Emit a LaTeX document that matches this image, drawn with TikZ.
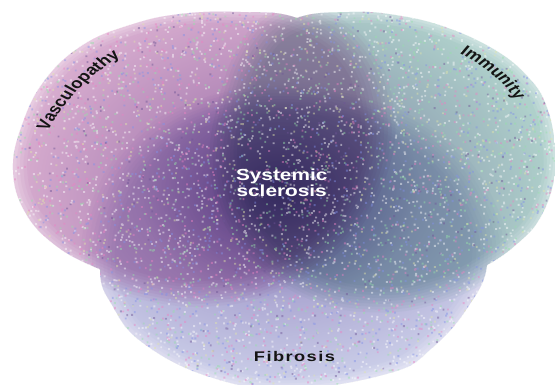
\documentclass[tikz,border=0pt]{standalone}
\usepackage{fontspec}
\setmainfont{Liberation Sans}
\usetikzlibrary{decorations.text,fadings}
\definecolor{cleft}{RGB}{238,210,232}
\definecolor{cright}{RGB}{211,232,229}
\definecolor{cbottom}{RGB}{231,233,245}
\definecolor{cwide}{RGB}{170,150,200}
\definecolor{ccore}{RGB}{175,165,210}
\definecolor{labelink}{RGB}{20,20,20}
\definecolor{speckw}{RGB}{255,255,255}
\definecolor{speckp}{RGB}{235,130,195}
\definecolor{speckg}{RGB}{150,225,170}
\definecolor{speckb}{RGB}{130,145,232}
\definecolor{specky}{RGB}{225,230,170}
\definecolor{speckd}{RGB}{110,85,150}
\newcommand\vlabelfont{\color{labelink}\bfseries\fontsize{14.5}{17}\selectfont}
\tikzfading[name=blobfade, inner color=transparent!0, outer color=transparent!100]
\tikzset{
  leftblob/.style={insert path={plot[smooth cycle,tension=0.7] coordinates {
    (297,367) (240,373) (180,371) (130,360) (83,340) (45,305) (22,260) (13,215)
    (25,173) (55,140) (97,117) (150,98) (210,93) (270,107) (330,147) (368,210)
    (375,275) (350,335)}}},
  rightblob/.style={insert path={plot[smooth cycle,tension=0.7] coordinates {
    (260,340) (235,280) (228,210) (255,145) (315,100) (380,87) (440,97) (487,120)
    (518,142) (540,167) (554,205) (555,240) (546,280) (528,308) (495,335) (445,358)
    (395,370) (350,373) (297,367)}}},
  bottomblob/.style={insert path={plot[smooth cycle,tension=0.7] coordinates {
    (100,115) (112,80) (143,42) (210,8) (290,-4) (390,12) (432,37) (468,78)
    (487,120) (480,170) (440,230) (370,270) (290,283) (210,273) (145,235) (108,175)}}},
  layer/.style={opacity=0.2, blend mode=multiply},
  darkglow/.style={fill=#1, blend mode=multiply, path fading=blobfade},
  speckles/.style={fill=#1, opacity=0.45},
  centertext/.style={text=white, font=\bfseries\fontsize{16}{18}\selectfont, inner sep=0pt, anchor=base},
  curvedlabel/.style={decorate, decoration={text along path, text align=center, text={#1}}}
}
\begin{document}
\begin{tikzpicture}[x=1pt,y=1pt]
\useasboundingbox (0,0) rectangle (555,385);
\fill[white] (0,0) rectangle (555,385);
\begin{scope}
  \clip[leftblob, rightblob, bottomblob];
  \foreach \s in {1.10,1.08,1.06,1.04,1.02,1.00,0.98,0.96,0.94,0.92} {
    \fill[scale around={\s:(190,235)}, cleft, layer, leftblob];
    \fill[scale around={\s:(400,232)}, cright, layer, rightblob];
    \fill[scale around={\s:(290,140)}, cbottom, layer, bottomblob];
  }
  \path[darkglow=cwide] (280,195) ellipse[x radius=270, y radius=200];
  \path[darkglow=ccore] (280,195) ellipse[x radius=140, y radius=110];
  \pgfmathsetseed{7}
  \foreach \c/\n in {speckw/2600,speckp/1300,speckg/1300,speckb/1300,specky/700,speckd/400} {
    \path[speckles=\c] \foreach \i in {1,...,\n} {(rnd*555,rnd*385) rectangle ++(1.9,1.9)};
  }
\end{scope}
\begin{scope}[transform canvas={xscale=1.3}]
  \path[curvedlabel={|\vlabelfont|Vasculopathy}]
    ([shift={(159:175)}]200,190) arc[start angle=159, end angle=127.5, radius=175];
  \path[curvedlabel={|\vlabelfont|Immunity}]
    ([shift={(58:126)}]285.9,225) arc[start angle=58, end angle=28, radius=126];
  \node[anchor=base, inner sep=0pt, text=labelink, font=\bfseries\fontsize{14}{16}\selectfont] (fib) at (226.5,23.3) {\addfontfeature{LetterSpace=8}Fibrosis};
  \node[centertext] (sys1) at (216.7,204.3) {Systemic};
  \node[centertext] (sys2) at (216.7,188.3) {sclerosis};
\end{scope}
\end{tikzpicture}
\end{document}
